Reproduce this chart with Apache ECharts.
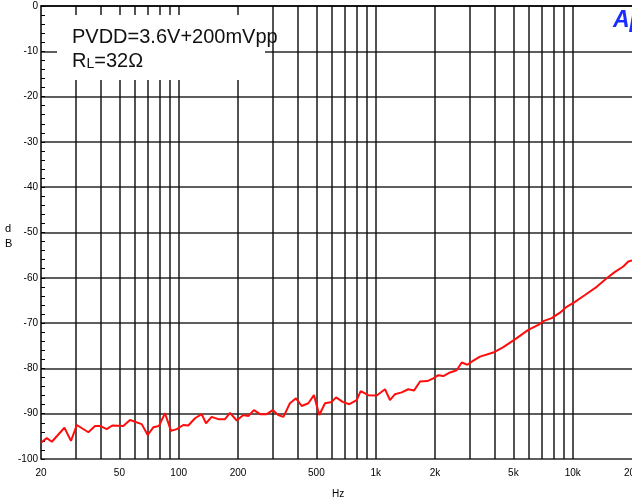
<!DOCTYPE html>
<html>
<head>
<meta charset="utf-8">
<script src="https://cdn.jsdelivr.net/npm/echarts@6.0.0/dist/echarts.min.js"></script>
<style>
  html, body { margin: 0; padding: 0; background: #fff; }
  #chart { width: 632px; height: 502px; }
</style>
</head>
<body>
<div id="chart"></div>
<script>
// PSRR sweep (Hz / dB)
const freqHz = [20, 21.4, 22.7, 26.3, 28.4, 30.4, 34.8, 37.6, 39.9, 43.1,
  46, 52.3, 56.6, 64.9, 69.6, 74.3, 79.4, 85.2, 91.4, 97.7,
  105.5, 111.9, 121, 130.8, 137.6, 147, 158.9, 171.8, 182.2, 197,
  212.8, 225.6, 241, 258.6, 279.7, 300, 320, 340, 367, 394,
  421, 455, 486, 517, 553, 598, 629, 680, 735, 801,
  839, 917, 1012, 1115, 1182, 1253, 1355, 1464, 1564, 1679,
  1828, 1960, 2078, 2204, 2384, 2578, 2733, 2918, 3129, 3384,
  3953, 4444, 5094, 5952, 6690, 7150, 7826, 8620, 9322, 10272,
  11546, 13240, 14880, 16394, 18064, 19156, 20000]
const psrrDb = [-96.4, -95.4, -96.2, -93.1, -96.0, -92.5, -94.1, -92.7, -92.7, -93.4,
  -92.6, -92.7, -91.4, -92.3, -94.7, -93.0, -92.7, -89.9, -93.8, -93.4,
  -92.5, -92.6, -91.0, -90.1, -92.1, -90.7, -91.2, -91.2, -89.8, -91.5,
  -90.3, -90.5, -89.2, -90.1, -90.1, -89.2, -90.3, -90.7, -87.7, -86.6,
  -88.3, -87.7, -85.9, -90.3, -87.7, -87.4, -86.4, -87.4, -87.9, -87.0,
  -85.0, -85.9, -86.0, -84.6, -87.0, -85.7, -85.3, -84.6, -84.9, -82.9,
  -82.8, -82.2, -81.5, -81.7, -80.9, -80.4, -78.7, -79.2, -78.3, -77.4,
  -76.5, -75.3, -73.6, -71.5, -70.4, -69.5, -68.9, -67.7, -66.4, -65.3,
  -63.8, -62.0, -60.1, -58.7, -57.5, -56.4, -56.2]

// log grid lines and labelled ticks
const gridHz = [30, 40, 50, 60, 70, 80, 90, 100, 200, 300, 400, 500, 600, 700, 800, 900,
  1000, 2000, 3000, 4000, 5000, 6000, 7000, 8000, 9000, 10000]
const tickHz = [20, 50, 100, 200, 500, 1000, 2000, 5000, 10000, 20000]
const tickText = ['20', '50', '100', '200', '500', '1k', '2k', '5k', '10k', '20k']

const lg = Math.log10
const gridColor = '#111'
const labelFont = '"Liberation Sans", Arial, sans-serif'

const chart = echarts.init(document.getElementById('chart'), null, { renderer: 'canvas' })

chart.setOption({
  animation: false,
  backgroundColor: '#fff',
  grid: { left: 41, right: 0, top: 6, bottom: 43, outerBoundsMode: 'none', containLabel: false },
  xAxis: {
    type: 'value',
    min: lg(20),
    max: lg(20000),
    axisLine: { show: true, lineStyle: { color: '#000', width: 1.5 } },
    axisTick: { show: false, customValues: gridHz.map(lg) },
    splitLine: { show: true, lineStyle: { color: gridColor, width: 1.6, opacity: 0.9 } },
    axisLabel: {
      customValues: tickHz.map(lg),
      margin: 9,
      color: '#000',
      fontFamily: labelFont,
      fontSize: 10,
      formatter: v => {
        const i = tickHz.findIndex(f => Math.abs(lg(f) - v) < 1e-6)
        return i >= 0 ? tickText[i] : ''
      }
    }
  },
  yAxis: {
    type: 'value',
    min: -100,
    max: 0,
    interval: 10,
    axisLine: { show: true, lineStyle: { color: '#000', width: 1.5 } },
    axisTick: { show: true, inside: true, length: 4, lineStyle: { color: '#000' } },
    minorTick: { show: true, splitNumber: 5, length: 4, lineStyle: { color: '#000' } },
    splitLine: { show: true, lineStyle: { color: gridColor, width: 1.6, opacity: 0.9 } },
    axisLabel: {
      margin: 3,
      color: '#000',
      fontFamily: labelFont,
      fontSize: 10
    }
  },
  series: [
    {
      type: 'line',
      data: freqHz.map((f, i) => [lg(f), psrrDb[i]]),
      showSymbol: false,
      smooth: false,
      lineStyle: { color: '#ff0d0d', width: 2 },
      z: 10
    }
  ],
  graphic: [
    // white annotation box over the grid
    { type: 'rect', z: 100, shape: { x: 57, y: 15, width: 208, height: 65 }, style: { fill: '#fff' } },
    {
      type: 'text', z: 101, left: 72, top: 27,
      style: { text: 'PVDD=3.6V+200mVpp', font: '20px "Liberation Sans"', fill: '#111' }
    },
    {
      type: 'text', z: 101, left: 72, top: 51,
      style: {
        text: '{a|R}{b|L}{a|=32Ω}',
        rich: {
          a: { font: '20px "Liberation Sans"', fill: '#111', verticalAlign: 'bottom' },
          b: { font: '14px "Liberation Sans"', fill: '#111', verticalAlign: 'bottom' }
        }
      }
    },
    // Ap logo, cut at the right edge
    {
      type: 'text', z: 101, left: 613, top: 9,
      style: { text: 'Ap', font: 'italic bold 23px "Liberation Sans"', fill: '#1a2cff' }
    },
    // axis names
    {
      type: 'text', z: 101, left: 5, top: 221,
      style: { text: 'd\nB', font: '11px "Liberation Sans"', fill: '#000', lineHeight: 15 }
    },
    {
      type: 'text', z: 101, left: 332, top: 489,
      style: { text: 'Hz', font: '10px "Liberation Sans"', fill: '#000' }
    }
  ]
})
</script>
</body>
</html>
